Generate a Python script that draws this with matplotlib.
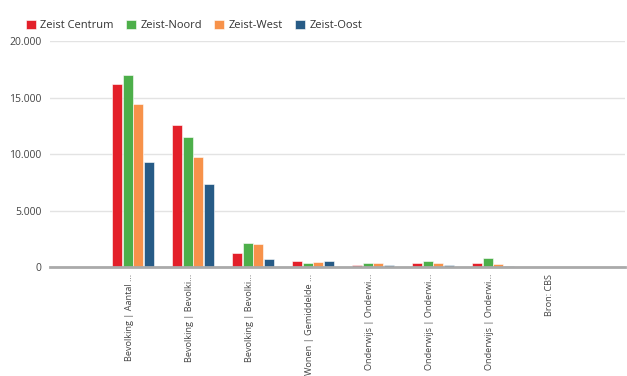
import numpy as np
import matplotlib.pyplot as plt

categories = [
    "Bevolking | Aantal ...",
    "Bevolking | Bevolki...",
    "Bevolking | Bevolki...",
    "Wonen | Gemiddelde ...",
    "Onderwijs | Onderwi...",
    "Onderwijs | Onderwi...",
    "Onderwijs | Onderwi...",
    "Bron: CBS",
]
series_names = ["Zeist Centrum", "Zeist-Noord", "Zeist-West", "Zeist-Oost"]
zeist_centrum = [16170, 12540, 1210, 560, 210, 330, 330, 0]
zeist_noord = [16990, 11480, 2150, 380, 330, 500, 830, 0]
zeist_west = [14400, 9760, 2000, 440, 360, 330, 240, 0]
zeist_oost = [9320, 7370, 680, 560, 150, 150, 80, 0]
yticks = [0, 5000, 10000, 15000, 20000]
ytick_labels = ["0", "5.000", "10.000", "15.000", "20.000"]

colors = ["#E3202A", "#4DAF4A", "#F7924A", "#275B86"]


def main():
    plt.rcParams["font.family"] = ["Open Sans", "DejaVu Sans"]
    fig = plt.figure(figsize=(6.27, 3.76), dpi=100)

    ax = fig.add_axes([50 / 627, 1 - 267 / 376, 575 / 627, 226.5 / 376])
    all_series = [zeist_centrum, zeist_noord, zeist_west, zeist_oost]
    x = np.arange(len(categories))
    width = 0.175
    for i, (name, vals) in enumerate(zip(series_names, all_series)):
        ax.bar(x + 0.05 + (i - 1.5) * width, vals, width * 0.97, color=colors[i],
               edgecolor="white", linewidth=0.4, label=name, zorder=2)

    ax.set_xlim(-1.333, 8.25)
    ax.set_ylim(0, 20050)
    ax.set_yticks(yticks)
    ax.set_yticklabels(ytick_labels)
    ax.set_xticks(x)
    ax.set_xticklabels(categories, rotation=90, va="top", ha="center")
    ax.tick_params(axis="y", length=0, pad=6, labelsize=7.5, colors="#444444")
    ax.tick_params(axis="x", length=0, pad=5, labelsize=6.6, colors="#444444")
    for s in ["top", "right", "left"]:
        ax.spines[s].set_visible(False)
    ax.spines["bottom"].set_color("#aaaaaa")
    ax.spines["bottom"].set_linewidth(2)
    ax.grid(axis="y", color="#e3e3e3", linewidth=1, zorder=0)
    ax.set_axisbelow(True)

    ax.legend(loc="upper left", bbox_to_anchor=(16 / 627, 1 - 10 / 376),
              bbox_transform=fig.transFigure, ncol=4, frameon=False,
              fontsize=8, handlelength=0.9, handleheight=0.9,
              handletextpad=0.4, columnspacing=1.1, labelcolor="#333333")

    fig.savefig("out.png", dpi=100)


if __name__ == "__main__":
    main()
